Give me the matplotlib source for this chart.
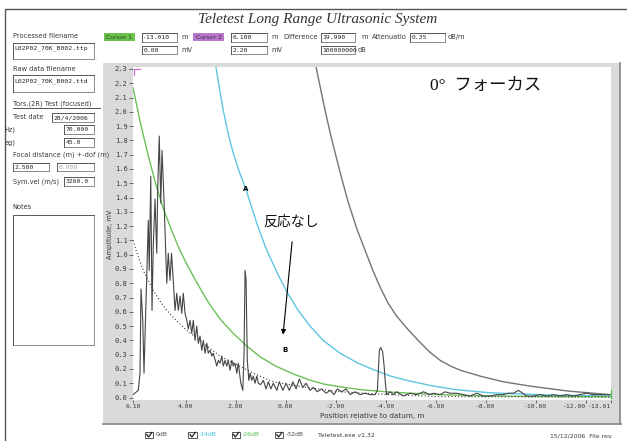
import numpy as np
import matplotlib
matplotlib.use("Agg")
import matplotlib.pyplot as plt
from matplotlib.patches import Rectangle

plt.rcParams['font.family'] = ['DejaVu Sans']

# echo trace (position m, amplitude mV)
trace_x = [6.10, 5.89, 5.82, 5.78, 5.71, 5.66, 5.62, 5.55, 5.49, 5.45, 5.39, 5.34,
           5.29, 5.22, 5.15, 5.11, 5.05, 4.99, 4.94, 4.86, 4.79, 4.75, 4.69, 4.62,
           4.56, 4.49, 4.42, 4.35, 4.29, 4.22, 4.15, 4.09, 4.02, 3.95, 3.89, 3.82,
           3.75, 3.69, 3.62, 3.55, 3.49, 3.42, 3.35, 3.29, 3.22, 3.15, 3.09, 3.02,
           2.95, 2.89, 2.75, 2.69, 2.62, 2.55, 2.49, 2.42, 2.35, 2.29, 2.22, 2.15,
           2.09, 2.02, 1.95, 1.89, 1.79, 1.71, 1.66, 1.62, 1.58, 1.53, 1.47, 1.42,
           1.35, 1.29, 1.22, 1.15, 1.09, 1.00, 0.89, 0.78, 0.69, 0.59, 0.49, 0.35,
           0.25, 0.11, -0.02, -0.15, -0.29, -0.42, -0.55, -0.69, -0.82, -0.98, -1.11,
           -1.27, -1.44, -1.62, -1.78, -1.94, -2.07, -2.24, -2.42, -2.58, -2.78,
           -2.98, -3.18, -3.38, -3.58, -3.67, -3.75, -3.80, -3.88, -3.94, -3.99,
           -4.04, -4.18, -4.31, -4.44, -4.71, -4.98, -5.24, -5.51, -5.78, -5.91,
           -6.18, -6.38, -6.57, -6.84, -7.11, -7.37, -7.64, -7.91, -8.17, -8.44,
           -8.71, -8.91, -9.11, -9.31, -9.48, -9.64, -9.91, -10.17, -10.44, -10.71,
           -10.97, -11.24, -11.50, -11.77, -12.04, -12.30, -12.57, -12.97]
trace_y = [0.02, 0.05, 0.17, 0.76, 0.54, 0.17, 0.43, 0.85, 1.24, 0.89, 1.55, 0.61,
           1.06, 1.39, 1.01, 1.48, 1.83, 1.36, 1.73, 1.38, 1.01, 0.80, 1.01, 0.82,
           1.01, 0.82, 0.61, 0.73, 0.61, 0.71, 0.59, 0.73, 0.59, 0.54, 0.48, 0.54,
           0.45, 0.54, 0.40, 0.50, 0.38, 0.43, 0.33, 0.40, 0.31, 0.38, 0.31, 0.33,
           0.29, 0.31, 0.22, 0.26, 0.24, 0.29, 0.22, 0.26, 0.22, 0.26, 0.19, 0.26,
           0.22, 0.24, 0.17, 0.24, 0.10, 0.05, 0.31, 0.89, 0.82, 0.26, 0.12, 0.17,
           0.12, 0.15, 0.10, 0.15, 0.10, 0.09, 0.12, 0.06, 0.11, 0.06, 0.10, 0.05,
           0.11, 0.05, 0.10, 0.05, 0.11, 0.06, 0.13, 0.07, 0.10, 0.05, 0.07,
           0.04, 0.06, 0.03, 0.05, 0.02, 0.06, 0.04, 0.06, 0.02, 0.04,
           0.02, 0.03, 0.02, 0.02, 0.05, 0.33, 0.35, 0.32, 0.22, 0.10,
           0.02, 0.04, 0.02, 0.04, 0.01, 0.03, 0.02, 0.04, 0.02, 0.03,
           0.02, 0.04, 0.03, 0.03, 0.02, 0.01, 0.03, 0.01, 0.01, 0.02,
           0.02, 0.03, 0.03, 0.05, 0.03, 0.01, 0.01, 0.02, 0.01, 0.02,
           0.01, 0.02, 0.01, 0.02, 0.03, 0.02, 0.02, 0.02]

# DAC curves
grey_x = [-1.20, -1.40, -1.58, -1.80, -2.00, -2.25, -2.50, -2.85, -3.18, -3.50,
          -3.80, -4.10, -4.44, -4.85, -5.30, -5.75, -6.18, -6.60, -7.00, -7.77,
          -8.70, -9.77, -11.30, -12.97]
grey_y = [2.33, 2.16, 2.01, 1.84, 1.70, 1.53, 1.37, 1.18, 1.03, 0.885,
          0.765, 0.66, 0.57, 0.485, 0.40, 0.32, 0.26, 0.22, 0.19, 0.15,
          0.11, 0.08, 0.045, 0.02]
cyan_x = [2.80, 2.65, 2.49, 2.30, 2.09, 1.85, 1.59, 1.37, 1.15, 0.82, 0.62, 0.30,
          -0.05, -0.50, -0.98, -1.50, -2.18, -2.90, -3.58, -4.20, -4.84, -5.77,
          -6.80, -8.17, -10.50, -13.01]
cyan_y = [2.33, 2.17, 2.01, 1.85, 1.71, 1.58, 1.46, 1.34, 1.22, 1.06, 0.98, 0.86,
          0.74, 0.61, 0.50, 0.40, 0.31, 0.24, 0.19, 0.15, 0.12, 0.085,
          0.055, 0.033, 0.018, 0.01]
green_x = [6.10, 5.80, 5.50, 5.20, 4.90, 4.60, 4.30, 4.00, 3.60, 3.10, 2.62, 2.10,
           1.55, 1.02, 0.40, -0.38, -1.00, -1.51, -2.18, -3.00, -4.00, -5.00,
           -6.18, -7.77, -10.00, -13.01]
green_y = [2.17, 1.92, 1.70, 1.50, 1.33, 1.19, 1.06, 0.95, 0.82, 0.67, 0.55, 0.45,
           0.36, 0.285, 0.22, 0.16, 0.12, 0.095, 0.075, 0.055, 0.04, 0.03,
           0.02, 0.012, 0.007, 0.005]
dot_x = [6.10, 5.90, 5.69, 5.29, 5.00, 4.75, 4.35, 3.95, 3.29, 2.62, 1.95, 1.29,
         0.49, -0.84, -2.18, -4.18, -6.18, -13.01]
dot_y = [1.10, 0.99, 0.89, 0.75, 0.67, 0.61, 0.535, 0.47, 0.38, 0.29, 0.23, 0.17,
         0.11, 0.07, 0.04, 0.02, 0.006, 0.003]

x_ticks = [6.10, 4.0, 2.0, 0.0, -2.0, -4.0, -6.0, -8.0, -10.0, -12.0, -13.01]
y_ticks = [i / 10 for i in range(24)]

W, H = 627, 441
fig = plt.figure(figsize=(W / 100, H / 100), dpi=100)
fig.patch.set_facecolor('white')

# screen layer in pixel coords
ui = fig.add_axes([0, 0, 1, 1], zorder=0)
ui.set_xlim(0, W)
ui.set_ylim(H, 0)
ui.axis('off')

LBL = '#3a3a3a'


def label(x, y, s, size=4.8, color=LBL, **kw):
    ui.text(x, y, s, fontsize=size, color=color, ha='left', va='center', **kw)


def field(x0, y0, x1, y1, txt='', color='#222'):
    ui.add_patch(Rectangle((x0, y0), x1 - x0, y1 - y0, fc='white', ec='#8a8a8a', lw=0.7))
    ui.plot([x0, x0, x1], [y1, y0, y0], color='#5a5a5a', lw=0.7)
    if txt:
        ui.text(x0 + 1.5, (y0 + y1) / 2 + 0.3, txt, fontsize=4.6, color=color,
                ha='left', va='center', family='DejaVu Sans Mono')


# outer frame and title
ui.plot([5, 5, W], [H, 9, 9], color='#555555', lw=1.0)
ui.text(318, 19, 'Teletest Long Range Ultrasonic System', family='Liberation Serif',
        style='italic', fontsize=11, ha='center', va='center', color='#333333')

# left panel
label(12.7, 36, 'Processed filename')
field(12.7, 42.7, 94, 59)
ui.text(14.5, 48, 'L02P02_70K_B002.ttp', fontsize=4.6, color='#222', va='center',
        family='DejaVu Sans Mono')
label(12.7, 69, 'Raw data filename')
field(12.7, 75, 94, 92)
ui.text(14.5, 81, 'L02P02_70K_B002.ttd', fontsize=4.6, color='#222', va='center',
        family='DejaVu Sans Mono')
label(12.7, 104, 'Tors.(2R) Test (focused)')
ui.plot([12.7, 100], [108, 108], color=LBL, lw=0.6)
label(12.7, 117.3, 'Test date')
field(51.7, 112.7, 94, 121.7, '28/4/2006')
label(4.5, 129.3, 'Hz)')
field(64, 125, 94, 134, '70.000')
label(4.5, 142.3, 'eg)')
field(64, 137.7, 94, 146.7, '45.0')
label(12.7, 155, 'Focal distance (m) +-dof (m)', zorder=5)
field(12.7, 162.7, 49.3, 171, '2.500')
field(56.7, 162.7, 94, 171, '0.000', color='#a0a0a0')
label(12.7, 181.7, 'Sym.vel (m/s)')
field(64, 177.3, 94, 186, '3260.0')
label(12.7, 207.3, 'Notes')
field(12.7, 215, 94, 345)

# cursor / readout row
ui.add_patch(Rectangle((104, 33), 31, 8, fc='#6cc04c', ec='none'))
ui.text(119.5, 37.2, 'Cursor 1', fontsize=4.4, color='#1f4f1f', ha='center', va='center')
field(141.7, 32.7, 176.7, 41.7, '-13.010')
label(181, 37, 'm')
field(141.7, 45.7, 176.7, 54.3, '0.00')
label(181, 50, 'mV')
ui.add_patch(Rectangle((193, 33), 31, 8, fc='#b878c8', ec='none'))
ui.text(208.5, 37.2, 'Cursor 2', fontsize=4.4, color='#4a1f55', ha='center', va='center')
field(230.7, 32.7, 266.7, 41.7, '6.100')
label(271, 37, 'm')
field(230.7, 45.7, 266.7, 54.3, '2.20')
label(271, 50, 'mV')
label(283, 37, 'Difference')
field(320.7, 32.7, 355, 41.7, '19.990')
label(361, 37, 'm')
field(320.7, 45.7, 355, 54.3, '100000000')
label(357.5, 50, 'dB')
label(371.7, 37, 'Attenuatio')
field(410, 32.7, 445, 41.7, '0.35')
label(448, 37, 'dB/m')

# plot panel
ui.add_patch(Rectangle((103, 63), 517, 360, fc='#dadada', ec='none'))
ui.plot([620, 620], [63, 424], color='#8c8c8c', lw=1.3)
ui.plot([103, 621], [424, 424], color='#8c8c8c', lw=1.3)
ui.text(110, 234, 'Amplitude, mV', rotation=90, fontsize=4.8, color=LBL,
        ha='center', va='center', zorder=5)
ui.text(372, 416, 'Position relative to datum, m', fontsize=5.2, color=LBL,
        ha='center', va='center', zorder=5)

# bottom row of check boxes
legend_items = [(145, '0dB', '#444444'), (188.3, '-14dB', '#3fbfe0'),
                (231.7, '-26dB', '#4fbf4f'), (275, '-32dB', '#444444')]
for x0, txt, col in legend_items:
    ui.add_patch(Rectangle((x0, 431.7), 8.3, 6.6, fc='white', ec='#555555', lw=0.7))
    ui.plot([x0 + 1.8, x0 + 3.6, x0 + 7], [434.5, 437, 432.3], color='#222', lw=0.9)
    label(x0 + 10.5, 435, txt, size=4.4, color=col)
label(318, 435.5, 'Teletest.exe v1.32', size=4.4)
label(550, 435.5, '15/12/2006  File rev.', size=4.4)


# the chart itself
def fx(px):
    return px / W


def fy(py):
    return 1 - py / H


ax = fig.add_axes([fx(133), fy(400), fx(611) - fx(133), fy(67) - fy(400)], zorder=1)
ax.set_facecolor('white')
for s in ax.spines.values():
    s.set_visible(False)

ax.plot(grey_x, grey_y, color='#747474', lw=1.0)
ax.plot(cyan_x, cyan_y, color='#5ec6e0', lw=1.0)
ax.plot(green_x, green_y, color='#6cc05a', lw=1.0)
ax.plot(dot_x, dot_y, color='#333333', lw=0.8, linestyle=(0, (1, 2)))
ax.plot(trace_x, trace_y, color='#454545', lw=0.8)

ax.set_xlim(6.10, -13.01)
ax.set_ylim(-0.0175, 2.314)
ax.set_xticks(x_ticks)
ax.set_xticklabels(['%.2f' % v for v in x_ticks])
ax.set_yticks(y_ticks)
ax.set_yticklabels(['%.1f' % v for v in y_ticks])
ax.tick_params(axis='y', direction='out', length=3, width=0.6, pad=0.8,
               labelsize=5, colors='#555555', labelcolor=LBL)
ax.tick_params(axis='x', direction='out', length=2, width=0.6, pad=0.8,
               labelsize=4.6, colors='#555555', labelcolor=LBL)
for t in ax.get_xticklabels() + ax.get_yticklabels():
    t.set_family('DejaVu Sans Mono')
xl = ax.get_xticklabels()
xl[-1].set_horizontalalignment('right')
xl[-2].set_horizontalalignment('right')

# cursor marks at both ends
ax.plot([134, 134, 140], [75, 69, 69], color='#d070d0', lw=0.9,
        transform=ui.transData, clip_on=False)
ax.plot([611, 611], [390, 398], color='#4fbf4f', lw=0.9,
        transform=ui.transData, clip_on=False)

# annotations
ax.text(430, 86, '0°  フォーカス', transform=ui.transData, fontsize=12.5,
        family=['Liberation Serif', 'Noto Sans CJK JP'], va='center', ha='left',
        color='#111111')
ax.text(263, 222, '反応なし', transform=ui.transData, fontsize=10,
        family=['Noto Sans CJK JP', 'DejaVu Sans'], va='center', ha='left',
        color='#111111')
ax.annotate('', xy=(0.10, 0.44), xytext=(-0.26, 1.09),
            arrowprops=dict(arrowstyle='-|>', color='black', lw=0.8,
                            mutation_scale=7, shrinkA=0, shrinkB=0))
ax.text(1.59, 1.46, 'A', fontsize=5, fontweight='bold', ha='center', va='center')
ax.text(0.02, 0.33, 'B', fontsize=5, fontweight='bold', ha='center', va='center')

fig.savefig('out.png', dpi=100)
